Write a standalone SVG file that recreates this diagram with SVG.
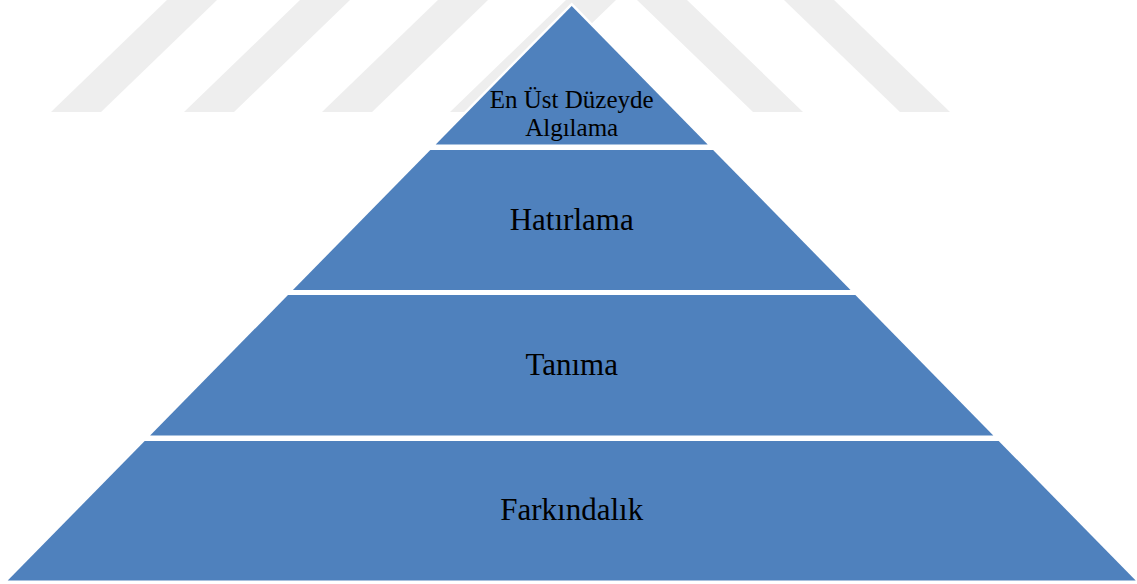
<svg xmlns="http://www.w3.org/2000/svg" width="1137" height="584" viewBox="0 0 1137 584">
  <style>
    .stripe { fill: #eeeeee; }
    .layer { fill: #4f81bd; }
    .label { font-family: "Liberation Serif", "Times New Roman", serif; fill: #000000; text-anchor: middle; }
    .big { font-size: 31px; }
    .small { font-size: 25px; }
  </style>
  <rect x="0" y="0" width="1137" height="584" fill="#ffffff"/>
  <g id="watermark">
    <polygon class="stripe" points="167,0 217,0 101,112 51,112"/>
    <polygon class="stripe" points="300,0 350,0 234,112 184,112"/>
    <polygon class="stripe" points="438,0 488,0 372,112 322,112"/>
    <polygon class="stripe" points="566,0 616,0 500,112 450,112"/>
    <polygon class="stripe" points="637,0 687,0 803,112 753,112"/>
    <polygon class="stripe" points="784,0 834,0 950,112 900,112"/>
  </g>
  <g id="layer-top">
    <polygon points="571.7,6 707.7,144.5 435.7,144.5" fill="none" stroke="#ffffff" stroke-width="5" stroke-linejoin="miter"/>
    <polygon class="layer" points="571.7,6 707.7,144.5 435.7,144.5"/>
    <text class="label small" x="571.7" y="108">En Üst Düzeyde</text>
    <text class="label small" x="571.7" y="136">Algılama</text>
  </g>
  <g id="layer-hatirlama">
    <polygon class="layer" points="430.3,150 713.1,150 850.5,290 292.9,290"/>
    <text class="label big" x="571.7" y="230">Hatırlama</text>
  </g>
  <g id="layer-tanima">
    <polygon class="layer" points="288,295 855.4,295 993.3,435.5 150.1,435.5"/>
    <text class="label big" x="571.7" y="375">Tanıma</text>
  </g>
  <g id="layer-farkindalik">
    <polygon class="layer" points="144.7,441 998.7,441 1135.7,580.5 7.7,580.5"/>
    <text class="label big" x="571.7" y="520">Farkındalık</text>
  </g>
  <g id="connectors"></g>
</svg>
